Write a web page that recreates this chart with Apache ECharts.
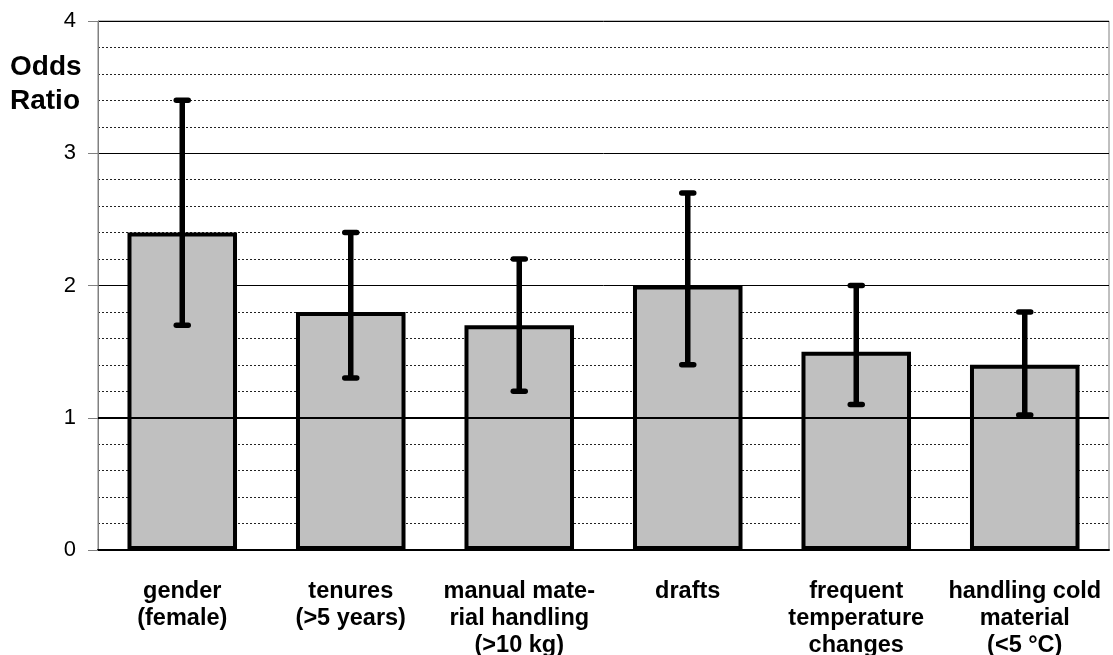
<!DOCTYPE html>
<html>
<head>
<meta charset="utf-8">
<script src="https://cdn.jsdelivr.net/npm/echarts@6/dist/echarts.min.js"></script>
<style>
html,body{margin:0;padding:0;background:#fff;}
#chart{width:1113px;height:655px;}
</style>
</head>
<body>
<div id="chart"></div>
<script>
const categories = ['gender\n(female)', 'tenures\n(>5 years)', 'manual mate-\nrial handling\n(>10 kg)', 'drafts', 'frequent\ntemperature\nchanges', 'handling cold\nmaterial\n(<5 °C)'];
const oddsRatio = [2.4, 1.8, 1.7, 2.0, 1.5, 1.4];
const ciLower = [1.7, 1.3, 1.2, 1.4, 1.1, 1.02];
const ciUpper = [3.4, 2.4, 2.2, 2.7, 2.0, 1.8];
const yTicks = [0, 1, 2, 3, 4];
const yTitle = 'Odds\nRatio';

const FONT = '"Liberation Sans", Arial, sans-serif';
const chart = echarts.init(document.getElementById('chart'), null, {renderer: 'canvas'});
const errData = categories.map((c, i) => [i, ciLower[i], ciUpper[i]]);

chart.setOption({
  animation: false,
  backgroundColor: '#fff',
  grid: {left: 98, right: 4, top: 21, bottom: 105, containLabel: false, outerBoundsMode: 'none',
         show: true, borderColor: '#808080', borderWidth: 1, backgroundColor: 'transparent'},
  graphic: [{
    type: 'text', left: 10, top: 50,
    style: {text: yTitle, font: 'bold 28px ' + FONT, fill: '#000', align: 'center', lineHeight: 34, width: 78}
  }],
  xAxis: {
    type: 'category', data: categories,
    axisLine: {lineStyle: {color: '#000', width: 2}},
    axisTick: {alignWithLabel: true, length: 10, lineStyle: {color: '#808080'}},
    axisLabel: {interval: 0, margin: 28, fontFamily: FONT, fontWeight: 'bold', fontSize: 23.5, lineHeight: 27, color: '#000'},
    splitLine: {show: false}
  },
  yAxis: {
    type: 'value', min: yTicks[0], max: yTicks[yTicks.length - 1], interval: 1,
    axisLine: {show: true, lineStyle: {color: '#808080', width: 1}},
    axisTick: {show: true, length: 10, lineStyle: {color: '#808080'}},
    axisLabel: {margin: 22, fontFamily: FONT, fontSize: 22, color: '#000'},
    splitLine: {show: true, lineStyle: {color: '#000', width: 1}},
    minorTick: {show: false, splitNumber: 5},
    minorSplitLine: {show: true, lineStyle: {color: '#222', width: 1, type: [2, 2]}}
  },
  series: [{
    type: 'bar', data: oddsRatio, barWidth: '65%',
    itemStyle: {color: '#c0c0c0', borderColor: '#000', borderWidth: 4},
    markLine: {
      silent: true, symbol: 'none', label: {show: false},
      lineStyle: {color: '#000', width: 2, type: 'solid'},
      data: [{yAxis: 1}]
    },
    z: 2
  }, {
    type: 'custom', data: errData, z: 5,
    renderItem: function (params, api) {
      const x = api.value(0);
      const pLo = api.coord([x, api.value(1)]);
      const pHi = api.coord([x, api.value(2)]);
      const cw = 6;
      const st = {stroke: '#000', lineWidth: 5.5, lineCap: 'round'};
      return {type: 'group', children: [
        {type: 'line', shape: {x1: pLo[0], y1: pLo[1], x2: pHi[0], y2: pHi[1]}, style: {stroke: '#000', lineWidth: 5.5}},
        {type: 'line', shape: {x1: pHi[0] - cw, y1: pHi[1], x2: pHi[0] + cw, y2: pHi[1]}, style: st},
        {type: 'line', shape: {x1: pLo[0] - cw, y1: pLo[1], x2: pLo[0] + cw, y2: pLo[1]}, style: st}
      ]};
    }
  }]
});
</script>
</body>
</html>
